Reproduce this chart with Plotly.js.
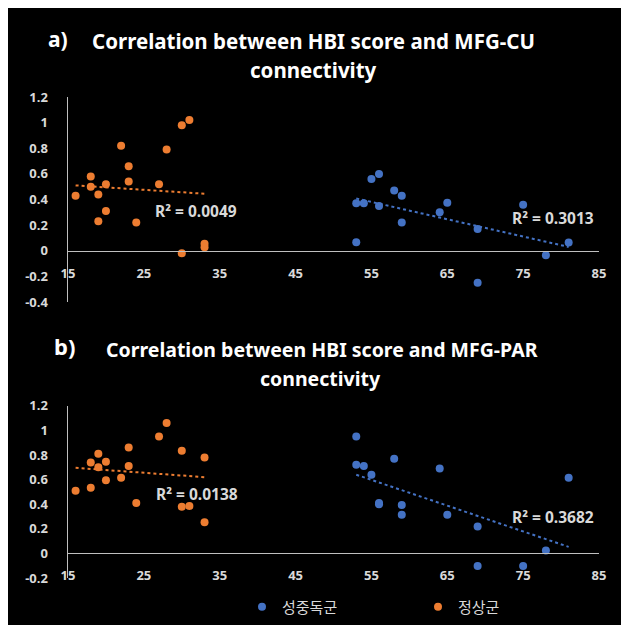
<!DOCTYPE html>
<html><head><meta charset="utf-8">
<script src="https://cdn.plot.ly/plotly-3.0.1.min.js"></script>
<style>html,body{margin:0;padding:0;background:#fff;}#chart{position:absolute;left:8px;top:8px;width:613px;height:617px;}</style>
</head><body><div id="chart"></div>
<script>
// Group names
const addictName = '성중독군';
const normalName = '정상군';

// a) MFG-CU connectivity
const normalHBI_a = [16,18,18,19,19,20,20,22,23,23,24,27,28,30,31,30,33,33];
const normalCU    = [0.43,0.58,0.50,0.44,0.23,0.52,0.31,0.82,0.66,0.54,0.22,0.52,0.79,0.98,1.02,-0.02,0.055,0.027];
const addictHBI_a = [53,54,53,55,56,56,58,59,59,64,65,69,69,75,78,81];
const addictCU    = [0.37,0.37,0.066,0.56,0.60,0.35,0.47,0.43,0.22,0.30,0.375,0.17,-0.25,0.36,-0.035,0.065];

// b) MFG-PAR connectivity
const normalHBI_b = [16,18,18,19,19,20,20,22,23,23,24,27,28,30,30,31,33,33];
const normalPAR   = [0.51,0.74,0.535,0.81,0.70,0.745,0.595,0.615,0.86,0.71,0.41,0.95,1.06,0.835,0.38,0.385,0.78,0.255];
const addictHBI_b = [53,53,54,55,56,56,58,59,59,64,65,69,69,75,78,81];
const addictPAR   = [0.95,0.72,0.71,0.64,0.40,0.41,0.77,0.395,0.315,0.69,0.315,0.22,-0.10,-0.10,0.025,0.615];

// R² labels
const r2NormalA = 'R² = 0.0049';
const r2AddictA = 'R² = 0.3013';
const r2NormalB = 'R² = 0.0138';
const r2AddictB = 'R² = 0.3682';

// Titles
const titleA = ['Correlation between HBI score and MFG-CU', 'connectivity'];
const titleB = ['Correlation between HBI score and MFG-PAR', 'connectivity'];

// Ticks
const xTicks = [15,25,35,45,55,65,75,85];
const yTicksA = [-0.4,-0.2,0,0.2,0.4,0.6,0.8,1,1.2];
const yTickTextA = ['-0.4','-0.2','0','0.2','0.4','0.6','0.8','1','1.2'];
const yTicksB = [-0.2,0,0.2,0.4,0.6,0.8,1,1.2];
const yTickTextB = ['-0.2','0','0.2','0.4','0.6','0.8','1','1.2'];

const BLUE = '#4472C4', ORANGE = '#ED7D31';
const TXT = '#d9d9d9', AX = '#bfbfbf';
const FONT = 'Noto Sans, DejaVu Sans, sans-serif';

function fit(xs, ys){
  const n = xs.length;
  const mx = xs.reduce((a,b)=>a+b,0)/n, my = ys.reduce((a,b)=>a+b,0)/n;
  let sxy=0, sxx=0;
  for(let i=0;i<n;i++){ sxy+=(xs[i]-mx)*(ys[i]-my); sxx+=(xs[i]-mx)*(xs[i]-mx); }
  const b = sxy/sxx, a = my - b*mx;
  const x0 = Math.min(...xs), x1 = Math.max(...xs);
  return {x:[x0,x1], y:[a+b*x0, a+b*x1]};
}

function pts(x, y, name, color, xa, ya, show){
  return {type:'scatter', mode:'markers', x:x, y:y, name:name, legendgroup:name, showlegend:show,
    xaxis:xa, yaxis:ya, marker:{color:color, size:8}, hoverinfo:'skip'};
}
function trend(x, y, color, xa, ya){
  const f = fit(x, y);
  return {type:'scatter', mode:'lines', x:f.x, y:f.y, showlegend:false, xaxis:xa, yaxis:ya,
    line:{color:color, width:2, dash:'dot'}, hoverinfo:'skip'};
}

const data = [
  pts(addictHBI_a, addictCU, addictName, BLUE, 'x', 'y', true),
  pts(normalHBI_a, normalCU, normalName, ORANGE, 'x', 'y', true),
  trend(addictHBI_a, addictCU, BLUE, 'x', 'y'),
  trend(normalHBI_a, normalCU, ORANGE, 'x', 'y'),
  pts(addictHBI_b, addictPAR, addictName, BLUE, 'x2', 'y2', false),
  pts(normalHBI_b, normalPAR, normalName, ORANGE, 'x2', 'y2', false),
  trend(addictHBI_b, addictPAR, BLUE, 'x2', 'y2'),
  trend(normalHBI_b, normalPAR, ORANGE, 'x2', 'y2')
];

const W = 613, H = 617;
const PX = x => (x-8)/W;
const PY = y => 1-(y-8)/H;

// plot geometry (page pixels)
const xL = 68, xR = 599;
const aTop = 97, aBot = 302, aZero = 250.7;
const bTop = 405.7, bBot = 578.2, bZero = 552.7;

const tickFont = {family:FONT, size:13, color:TXT, weight:'bold'};
function xax(dom, pos){
  return {domain:dom, range:[15,85], tickvals:xTicks, ticktext:xTicks.map(String), anchor:'free', position:pos,
    showline:true, linecolor:AX, linewidth:1.5, showgrid:false, zeroline:false, ticks:'', tickfont:tickFont,
    ticklabelstandoff:10, fixedrange:true};
}
function yax(dom, rng, tv, tt, anc){
  return {domain:dom, range:rng, tickvals:tv, ticktext:tt, anchor:anc, showline:true, linecolor:AX, linewidth:1.5,
    showgrid:false, zeroline:false, ticks:'', tickfont:tickFont, ticklabelstandoff:16, fixedrange:true};
}

function ann(text, x, y, size, bold, xanchor){
  return {text:text, xref:'paper', yref:'paper', x:PX(x), y:PY(y), xanchor:xanchor||'center', yanchor:'middle',
    showarrow:false, font:{family:FONT, size:size, color:'#ffffff', weight: bold?'bold':'normal'}};
}
function r2(text, x, y){
  return {text:text, xref:'paper', yref:'paper', x:PX(x), y:PY(y), xanchor:'center', yanchor:'middle',
    showarrow:false, font:{family:FONT, size:15.5, color:TXT, weight:'bold'}};
}

const layout = {
  width:W, height:H, margin:{l:0,r:0,t:0,b:0,autoexpand:false},
  paper_bgcolor:'#000000', plot_bgcolor:'rgba(0,0,0,0)',
  font:{family:FONT, color:TXT},
  xaxis: xax([PX(xL), PX(xR)], PY(aZero)),
  yaxis: yax([PY(aBot), PY(aTop)], [-0.4,1.2], yTicksA, yTickTextA, 'x'),
  xaxis2: xax([PX(xL), PX(xR)], PY(bZero)),
  yaxis2: yax([PY(bBot), PY(bTop)], [-0.2,1.2], yTicksB, yTickTextB, 'x2'),
  showlegend:true,
  legend:{orientation:'h', x:PX(242), xanchor:'left', y:PY(607), yanchor:'middle',
    entrywidth:131, entrywidthmode:'pixels', bgcolor:'rgba(0,0,0,0)',
    font:{family:'Noto Sans CJK KR, sans-serif', size:15, color:TXT}},
  annotations:[
    ann('a)', 58, 39, 21, true),
    ann(titleA[0], 313.5, 41, 20.5, true),
    ann(titleA[1], 313.5, 70, 20.5, true),
    ann('b)', 64, 346, 22, true),
    ann(titleB[0], 321.5, 350, 19.5, true),
    ann(titleB[1], 321, 378, 19.5, true),
    r2(r2NormalA, 196, 211),
    r2(r2AddictA, 553, 217.7),
    r2(r2NormalB, 196.5, 494),
    r2(r2AddictB, 553, 517.3)
  ]
};

Plotly.newPlot('chart', data, layout, {staticPlot:true, displayModeBar:false});
</script>
</body></html>
